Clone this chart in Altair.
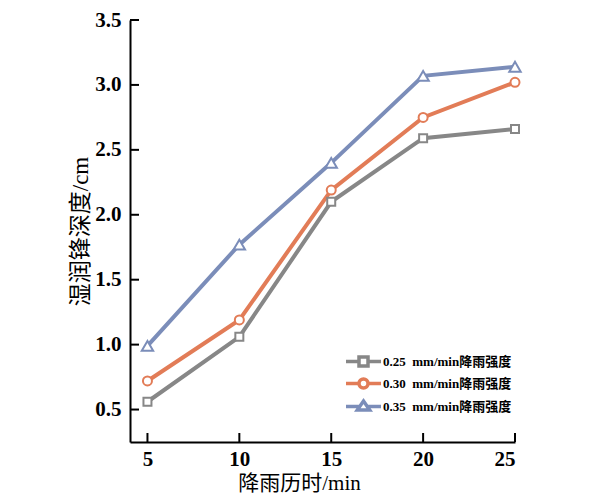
import altair as alt
import pandas as pd

# ---- data ----
durations = [5, 10, 15, 20, 25]
depth_025 = [0.56, 1.06, 2.10, 2.59, 2.66]
depth_030 = [0.72, 1.19, 2.19, 2.75, 3.02]
depth_035 = [0.99, 1.77, 2.40, 3.07, 3.14]
series_names = [
    "0.25\u00a0\u00a0mm/min降雨强度",
    "0.30\u00a0\u00a0mm/min降雨强度",
    "0.35\u00a0\u00a0mm/min降雨强度",
]
series_colors = ["#878787", "#e27c57", "#7b8db9"]
series_shapes = ["square", "circle", "triangle-up"]
series_sizes = [64, 81, 130]
y_ticks = [0.5, 1.0, 1.5, 2.0, 2.5, 3.0, 3.5]
x_ticks = [5, 10, 15, 20, 25]

rows = []
for name, vals in zip(series_names, [depth_025, depth_030, depth_035]):
    for d, v in zip(durations, vals):
        rows.append({"series": name, "duration": d, "depth": v})
df = pd.DataFrame(rows)

W, H = 385, 422
NUM_FONT = "Liberation Serif"
CJK_FONT = "Liberation Serif, Noto Sans CJK SC"

x_scale = alt.Scale(domain=[4.05, 25], nice=False, zero=False)
y_scale = alt.Scale(domain=[0.25, 3.5], nice=False, zero=False)
s_scale = alt.Scale(domain=series_names, range=series_colors)

# legend symbol paths (units: sqrt(symbolSize)/2 px)
P_SQ = "M-4.375,0H-1.125M1.125,0H4.375M-1.125,-1.125H1.125V1.125H-1.125Z"
P_CI = ("M-4.375,0H-1.125M1.125,0H4.375M-1.125,0A1.125,1.125,0,1,1,1.125,0"
        "A1.125,1.125,0,1,1,-1.125,0Z")
P_TR = "M-4.375,0H-0.9M0.9,0H4.375M0,-1.35L1.55,0.9L-1.55,0.9Z"
shape_expr = (f"indexof(datum.value,'0.25')>=0 ? '{P_SQ}' : "
              f"(indexof(datum.value,'0.30')>=0 ? '{P_CI}' : '{P_TR}')")

legend_obj = alt.Legend(
    title=None, orient="none", legendX=227, legendY=335,
    padding=0, rowPadding=-1, symbolSize=64, symbolStrokeWidth=3.5,
    symbolType={"expr": shape_expr}, symbolFillColor="white",
    symbolOpacity=1,
    labelFont=CJK_FONT, labelFontSize=13, labelFontWeight="bold",
    labelColor="black", labelOffset=13,
)

x_enc = alt.X(
    "duration:Q", scale=x_scale,
    axis=alt.Axis(
        values=x_ticks, title="降雨历时/min", grid=False, ticks=False,
        domainColor="black", domainWidth=2,
        labelFont=NUM_FONT, labelFontSize=21, labelFontWeight="bold",
        labelColor="black", labelPadding=6,
        titleFont=CJK_FONT, titleFontSize=21, titleFontWeight="normal",
        titleColor="black", titleX=169, titleY=47, titleBaseline="alphabetic",
        titleAlign="center",
    ),
)
y_enc = alt.Y(
    "depth:Q", scale=y_scale,
    axis=alt.Axis(
        values=y_ticks, format=".1f", title="湿润锋深度/cm", grid=False, ticks=False,
        domainColor="black", domainWidth=2,
        labelFont=NUM_FONT, labelFontSize=21, labelFontWeight="bold",
        labelColor="black", labelPadding=9,
        titleFont=CJK_FONT, titleFontSize=23, titleFontWeight="normal",
        titleColor="black", titleX=-50, titleY=211, titleBaseline="middle",
        titleAlign="center", titleAngle=-90,
    ),
)

lines = alt.Chart(df).mark_line(strokeWidth=4).encode(
    x=x_enc,
    y=y_enc,
    stroke=alt.Stroke("series:N", scale=s_scale, legend=legend_obj),
)

point_layers = []
for name, shp, sz in zip(series_names, series_shapes, series_sizes):
    point_layers.append(
        alt.Chart(df).transform_filter(alt.datum.series == name)
        .mark_point(filled=True, fill="white", strokeWidth=2, opacity=1, shape=shp, size=sz)
        .encode(
            x=alt.X("duration:Q", scale=x_scale),
            y=alt.Y("depth:Q", scale=y_scale),
            stroke=alt.Stroke("series:N", scale=s_scale, legend=legend_obj),
        )
    )

ytick_df = pd.DataFrame({"v": y_ticks})
xtick_df = pd.DataFrame({"v": x_ticks})
yticks = alt.Chart(ytick_df).mark_rule(color="black", strokeWidth=2).encode(
    y=alt.Y("v:Q", scale=y_scale), x=alt.value(0), x2=alt.value(9)
)
xticks = alt.Chart(xtick_df).mark_rule(color="black", strokeWidth=2).encode(
    x=alt.X("v:Q", scale=x_scale), y=alt.value(H), y2=alt.value(H - 9)
)

chart = alt.layer(yticks, xticks, lines, *point_layers).properties(
    width=W, height=H,
    autosize=alt.AutoSizeParams(type="none"),
    padding={"left": 130, "top": 20, "right": 80, "bottom": 57},
    background="white",
).configure_view(stroke=None)

chart.save("out.html", embed_options={"renderer": "svg", "actions": False})
